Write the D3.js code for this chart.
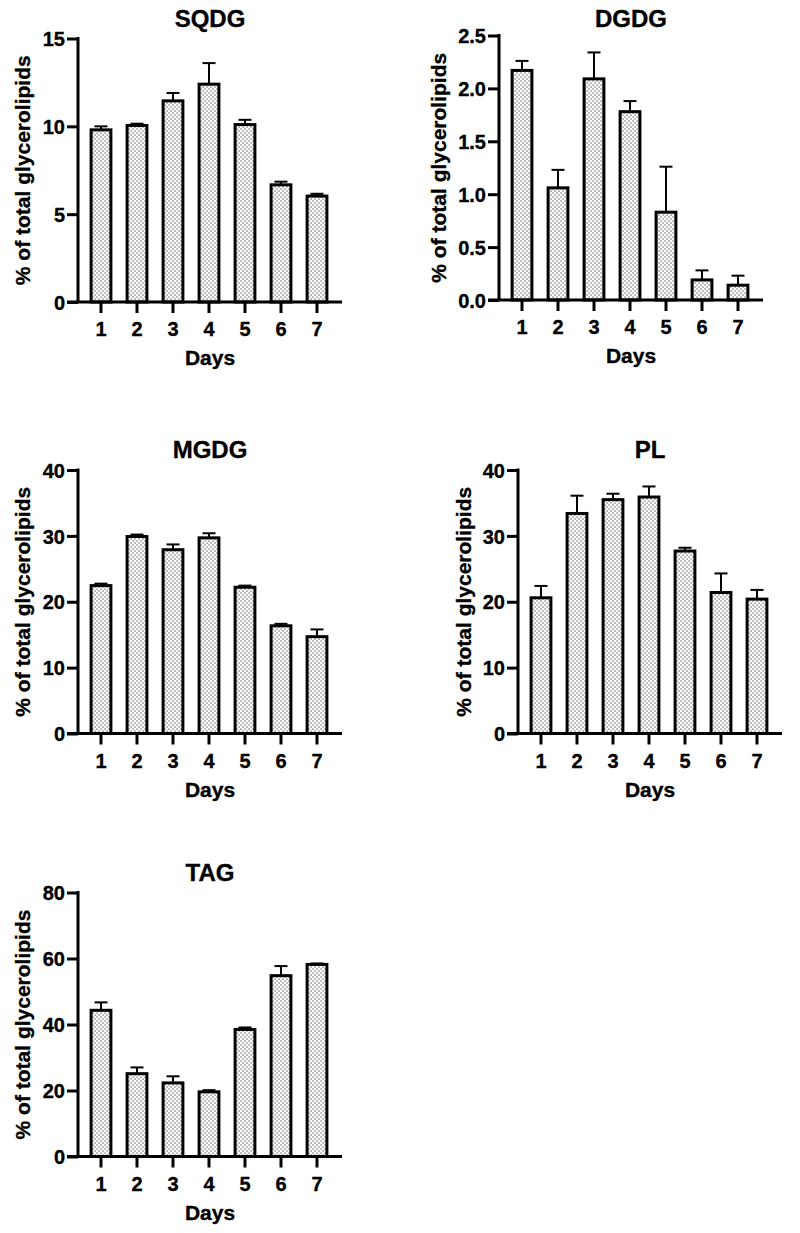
<!DOCTYPE html>
<html>
<head>
<meta charset="utf-8">
<script src="https://cdn.jsdelivr.net/npm/d3@7"></script>
<style>
  html, body { margin: 0; padding: 0; background: #fff; }
  svg { display: block; }
  text { font-family: "Liberation Sans", Arial, Helvetica, sans-serif; font-weight: bold; fill: #000; stroke: #000; stroke-width: 0.35px; }
</style>
</head>
<body>
<script>
// ---------- data ----------
const days = ["1", "2", "3", "4", "5", "6", "7"];

const sqdgMean = [9.8, 10.05, 11.45, 12.4, 10.1, 6.67, 6.03];
const sqdgErr  = [0.2, 0.1, 0.45, 1.2, 0.27, 0.18, 0.13];
const sqdgTicks = [0, 5, 10, 15];

const dgdgMean = [2.17, 1.06, 2.09, 1.78, 0.83, 0.19, 0.14];
const dgdgErr  = [0.09, 0.17, 0.25, 0.1, 0.43, 0.09, 0.09];
const dgdgTicks = [0, 0.5, 1.0, 1.5, 2.0, 2.5];

const mgdgMean = [22.45, 29.9, 27.9, 29.7, 22.2, 16.35, 14.7];
const mgdgErr  = [0.3, 0.3, 0.8, 0.7, 0.25, 0.3, 1.1];
const mgdgTicks = [0, 10, 20, 30, 40];

const plMean = [20.6, 33.4, 35.5, 35.9, 27.7, 21.4, 20.4];
const plErr  = [1.8, 2.7, 0.9, 1.6, 0.5, 2.9, 1.4];
const plTicks = [0, 10, 20, 30, 40];

const tagMean = [44.3, 25.1, 22.3, 19.6, 38.5, 54.8, 58.2];
const tagErr  = [2.4, 1.9, 2.0, 0.5, 0.6, 2.9, 0.3];
const tagTicks = [0, 20, 40, 60, 80];

const titles = ["SQDG", "DGDG", "MGDG", "PL", "TAG"];
const yLabel = "% of total glycerolipids";
const xLabel = "Days";

// ---------- layout ----------
const W = 800, H = 1233;
const svg = d3.select("body").append("svg").attr("width", W).attr("height", H);

const defs = svg.append("defs");
const pat = defs.append("pattern")
  .attr("id", "dots").attr("patternUnits", "userSpaceOnUse")
  .attr("width", 4).attr("height", 4);
pat.append("rect").attr("width", 4).attr("height", 4).attr("fill", "#fff");
pat.append("rect").attr("x", 0.5).attr("y", 0.5).attr("width", 1.1).attr("height", 1.1).attr("fill", "#2a2a2a");
pat.append("rect").attr("x", 2.5).attr("y", 2.5).attr("width", 1.1).attr("height", 1.1).attr("fill", "#2a2a2a");

const panels = [
  { title: titles[0], mean: sqdgMean, err: sqdgErr, ticks: sqdgTicks, fmt: d3.format("d"),
    ax: 78, top: 38.5, bottom: 302, titleY: 26.5, ylabX: 30 },
  { title: titles[1], mean: dgdgMean, err: dgdgErr, ticks: dgdgTicks, fmt: d3.format(".1f"),
    ax: 499, top: 35.5, bottom: 300, titleY: 26.5, ylabX: 446 },
  { title: titles[2], mean: mgdgMean, err: mgdgErr, ticks: mgdgTicks, fmt: d3.format("d"),
    ax: 78, top: 470, bottom: 733.5, titleY: 458, ylabX: 30 },
  { title: titles[3], mean: plMean, err: plErr, ticks: plTicks, fmt: d3.format("d"),
    ax: 518, top: 470, bottom: 733.5, titleY: 458, ylabX: 471 },
  { title: titles[4], mean: tagMean, err: tagErr, ticks: tagTicks, fmt: d3.format("d"),
    ax: 78, top: 892.5, bottom: 1156.5, titleY: 881, ylabX: 30 }
];

const AXW = 3;
panels.forEach(p => {
  const g = svg.append("g");
  const x = d3.scaleBand().domain(days)
    .range([p.ax + 5, p.ax + 257])
    .paddingInner(0.45).paddingOuter(0.225);
  const y = d3.scaleLinear()
    .domain([0, p.ticks[p.ticks.length - 1]])
    .range([p.bottom, p.top]);
  const data = days.map((d, i) => ({ day: d, m: p.mean[i], e: p.err[i] }));
  const capW = 13;

  // error bars (upper only)
  const eb = g.append("g");
  eb.selectAll("line.v").data(data).join("line")
    .attr("x1", d => x(d.day) + x.bandwidth() / 2)
    .attr("x2", d => x(d.day) + x.bandwidth() / 2)
    .attr("y1", d => y(d.m)).attr("y2", d => y(d.m + d.e))
    .attr("stroke", "#000").attr("stroke-width", 2);
  eb.selectAll("line.c").data(data).join("line")
    .attr("x1", d => x(d.day) + x.bandwidth() / 2 - capW / 2)
    .attr("x2", d => x(d.day) + x.bandwidth() / 2 + capW / 2)
    .attr("y1", d => y(d.m + d.e)).attr("y2", d => y(d.m + d.e))
    .attr("stroke", "#000").attr("stroke-width", 2);

  // bars
  g.append("g").selectAll("rect").data(data).join("rect")
    .attr("x", d => x(d.day))
    .attr("y", d => y(d.m))
    .attr("width", x.bandwidth())
    .attr("height", d => y(0) - y(d.m))
    .attr("fill", "url(#dots)")
    .attr("stroke", "#000").attr("stroke-width", 3);

  // y axis
  const yAxis = d3.axisLeft(y).tickValues(p.ticks).tickFormat(p.fmt)
    .tickSize(11).tickPadding(2).tickSizeOuter(0);
  const ya = g.append("g").attr("transform", `translate(${p.ax},0)`).call(yAxis);
  ya.select(".domain").attr("stroke-width", AXW).attr("d", `M0,${p.top - 1.5}V${p.bottom}`);
  ya.selectAll(".tick line").attr("stroke-width", AXW);
  ya.selectAll(".tick text").style("font-size", "20px").attr("dy", "0.36em");

  // x axis
  const xAxis = d3.axisBottom(x).tickSize(11).tickPadding(9).tickSizeOuter(0);
  const xa = g.append("g").attr("transform", `translate(0,${p.bottom})`).call(xAxis);
  xa.select(".domain").attr("stroke-width", AXW).attr("d", `M${p.ax - 11},0H${p.ax + 264}`);
  xa.selectAll(".tick line").attr("stroke-width", AXW);
  xa.selectAll(".tick text").style("font-size", "20px");

  // title
  const cx = p.ax + 132;
  g.append("text").attr("x", cx).attr("y", p.titleY)
    .attr("text-anchor", "middle").style("font-size", "24px").text(p.title);

  // x label
  g.append("text").attr("x", cx).attr("y", p.bottom + 63)
    .attr("text-anchor", "middle").style("font-size", "21px").text(xLabel);

  // y label
  g.append("text")
    .attr("transform", `translate(${p.ylabX},${(p.top + p.bottom) / 2}) rotate(-90)`)
    .attr("text-anchor", "middle").style("font-size", "21px").text(yLabel);
});
</script>
</body>
</html>
